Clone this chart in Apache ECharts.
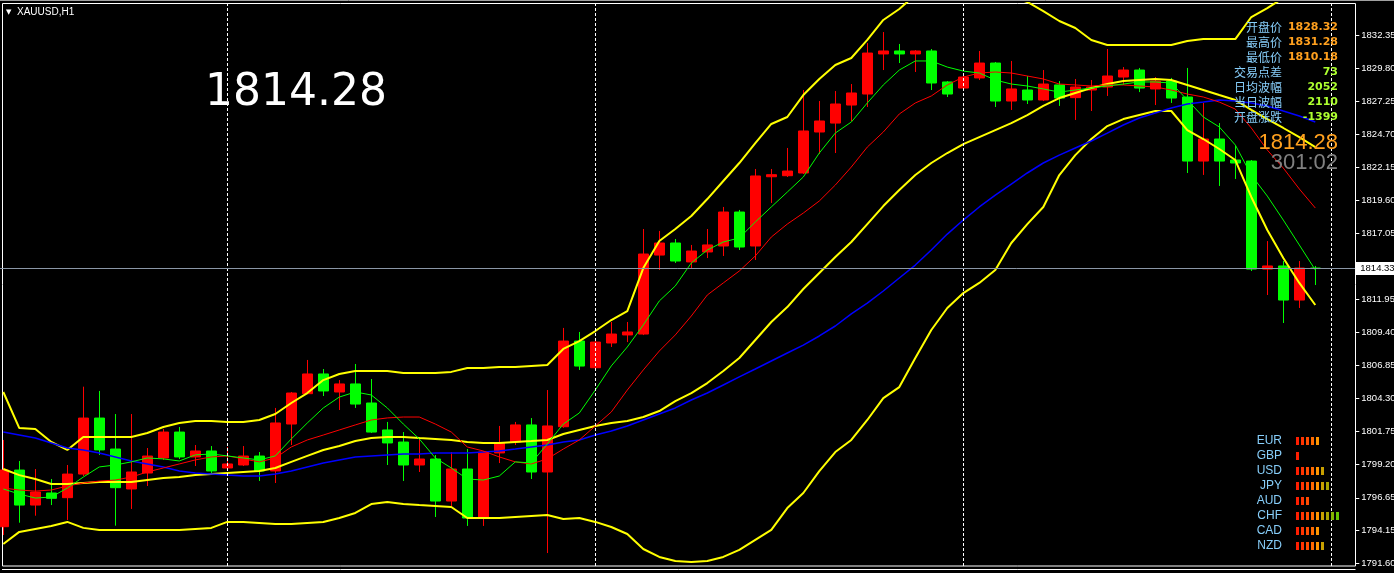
<!DOCTYPE html>
<html><head><meta charset="utf-8">
<script src="https://cdn.jsdelivr.net/npm/echarts@6/dist/echarts.min.js"></script>
<style>html,body{margin:0;padding:0;background:#000;overflow:hidden}#c{width:1394px;height:573px}</style>
</head><body><div id="c"></div><script>
// ---------------- data ----------------
const days = ['11-29','11-30','12-01','12-02','12-03'];
const categories = [];
for (let h = 10; h <= 23; h++) categories.push(days[0] + ' ' + String(h).padStart(2,'0') + ':00');
for (let d = 1; d <= 3; d++) for (let h = 1; h <= 23; h++) categories.push(days[d] + ' ' + String(h).padStart(2,'0') + ':00');
categories.push(days[4] + ' 01:00', days[4] + ' 02:00');
const daySeparators = ['11-30 01:00','12-01 01:00','12-02 01:00','12-03 01:00'];

const openP = [1794.42,1798.79,1796.09,1797.02,1796.66,1798.48,1802.80,1800.41,1797.33,1798.56,1799.72,1801.72,1799.80,1800.26,1798.95,1799.18,1799.87,1798.72,1802.34,1804.68,1806.20,1804.81,1805.43,1803.96,1801.88,1800.95,1799.18,1799.64,1796.40,1798.87,1795.09,1800.11,1800.95,1802.27,1798.64,1802.13,1808.74,1806.68,1808.59,1809.21,1809.28,1815.37,1816.30,1814.84,1815.61,1816.07,1818.69,1816.07,1821.41,1821.49,1821.70,1824.86,1825.55,1826.94,1827.79,1830.88,1831.11,1830.88,1831.11,1828.72,1828.25,1829.03,1830.18,1827.25,1828.10,1827.33,1828.49,1827.51,1828.10,1828.33,1829.10,1829.64,1828.18,1828.79,1827.56,1822.62,1824.32,1822.70,1822.62,1814.29,1814.53,1811.90,1814.37];
const highP = [1801.11,1799.49,1798.87,1798.10,1799.18,1805.22,1804.89,1803.11,1803.11,1800.49,1801.96,1802.11,1800.72,1800.64,1800.57,1800.64,1800.18,1803.58,1804.81,1807.28,1806.58,1805.73,1806.97,1805.81,1802.50,1801.72,1801.34,1799.95,1800.18,1800.41,1800.25,1802.19,1802.50,1802.80,1804.96,1809.75,1809.44,1808.90,1810.21,1810.21,1817.38,1817.23,1816.61,1816.15,1817.38,1819.08,1818.85,1822.01,1822.01,1823.63,1828.10,1827.25,1828.02,1828.56,1831.72,1832.57,1831.65,1831.18,1831.26,1828.79,1829.20,1831.11,1830.26,1830.34,1829.18,1829.64,1828.79,1828.95,1828.87,1831.26,1829.87,1829.80,1829.10,1829.03,1829.80,1827.10,1825.55,1823.78,1822.70,1816.45,1814.91,1814.91,1814.53];
const lowP = [1793.78,1794.73,1795.27,1796.09,1794.94,1798.33,1799.95,1794.50,1795.79,1797.56,1799.57,1799.64,1799.10,1798.48,1798.95,1799.10,1797.95,1797.79,1800.72,1804.65,1804.50,1803.42,1803.58,1801.65,1799.18,1797.95,1798.64,1795.17,1796.02,1794.48,1794.48,1799.33,1800.72,1798.10,1792.39,1802.05,1806.51,1806.60,1808.28,1808.66,1809.20,1814.22,1814.76,1814.37,1815.14,1815.30,1815.76,1814.99,1819.39,1821.39,1821.62,1823.16,1823.24,1825.71,1826.79,1829.64,1830.18,1829.49,1828.10,1827.56,1828.10,1828.87,1826.79,1826.56,1827.02,1827.25,1826.87,1825.79,1826.48,1827.64,1828.49,1827.94,1826.94,1827.10,1821.70,1821.55,1820.70,1821.24,1814.14,1812.29,1810.13,1811.29,1813.06];
const closeP = [1798.79,1796.09,1797.10,1796.61,1798.48,1802.80,1800.34,1797.43,1798.64,1799.87,1801.72,1799.80,1800.26,1798.72,1799.26,1799.87,1798.72,1802.42,1804.73,1806.20,1804.89,1805.43,1803.88,1801.72,1800.88,1799.18,1799.64,1796.40,1798.87,1795.09,1800.18,1800.88,1802.27,1798.64,1802.19,1808.74,1806.81,1808.66,1809.28,1809.44,1815.45,1816.30,1814.91,1815.68,1816.15,1818.69,1815.99,1821.47,1821.57,1821.85,1824.94,1825.71,1827.02,1827.87,1830.95,1831.11,1830.88,1831.11,1828.64,1827.79,1829.10,1830.18,1827.25,1828.18,1827.33,1828.56,1827.48,1828.33,1828.33,1829.18,1829.64,1828.25,1828.79,1827.48,1822.62,1824.32,1822.62,1822.47,1814.29,1814.53,1811.90,1814.37,1814.33];

const bbUpper = [1804.81,1802.03,1801.96,1800.96,1800.34,1801.34,1801.34,1801.34,1801.34,1801.65,1802.11,1802.42,1802.57,1802.57,1802.50,1802.50,1802.65,1803.11,1803.96,1804.73,1805.73,1806.20,1806.43,1806.43,1806.43,1806.28,1806.28,1806.28,1806.36,1806.66,1806.66,1806.74,1806.74,1806.82,1806.89,1808.13,1808.74,1809.51,1810.36,1811.05,1814.37,1816.45,1817.38,1818.38,1819.69,1821.08,1822.47,1824.01,1825.48,1826.02,1827.71,1828.95,1830.03,1830.57,1831.96,1833.50,1834.35,1835.43,1835.66,1835.81,1835.81,1835.81,1835.66,1835.27,1834.89,1834.19,1833.42,1832.88,1831.96,1831.57,1831.57,1831.57,1831.57,1831.57,1831.88,1832.03,1832.03,1832.03,1833.73,1834.42,1835.19,1835.89,1835.89];
const bbMiddle = [1798.87,1798.40,1798.10,1797.71,1797.71,1797.79,1797.87,1797.87,1797.87,1798.02,1798.17,1798.25,1798.40,1798.48,1798.56,1798.64,1798.71,1798.95,1799.42,1799.88,1800.34,1800.65,1801.03,1801.26,1801.34,1801.34,1801.26,1801.19,1801.11,1800.96,1800.88,1800.88,1800.96,1801.03,1801.11,1801.57,1801.88,1802.19,1802.42,1802.57,1802.88,1803.34,1804.11,1804.73,1805.50,1806.43,1807.43,1808.82,1810.21,1811.36,1812.75,1813.99,1815.22,1816.38,1817.76,1819.15,1820.39,1821.54,1822.47,1823.24,1823.93,1824.47,1825.01,1825.55,1826.17,1826.87,1827.48,1827.87,1828.25,1828.56,1828.79,1828.87,1828.95,1828.87,1828.49,1828.10,1827.71,1827.33,1826.56,1825.86,1825.17,1824.47,1823.70];
const bbLower = [1793.09,1794.02,1794.25,1794.48,1794.79,1794.33,1794.17,1794.17,1794.17,1794.17,1794.17,1794.17,1794.25,1794.33,1794.79,1794.79,1794.71,1794.63,1794.63,1794.71,1794.79,1795.09,1795.48,1796.17,1796.33,1796.17,1796.09,1796.02,1795.94,1795.09,1795.09,1795.09,1795.17,1795.25,1795.32,1795.02,1795.09,1794.79,1794.40,1793.86,1792.70,1792.09,1791.78,1791.70,1791.78,1792.09,1792.63,1793.40,1794.17,1795.86,1797.02,1798.71,1800.18,1801.11,1802.65,1804.34,1805.19,1807.43,1809.59,1811.29,1812.44,1813.22,1814.22,1816.30,1817.76,1819.08,1821.54,1823.08,1824.32,1825.32,1825.86,1826.17,1826.48,1826.48,1825.01,1824.32,1823.55,1822.70,1819.85,1817.30,1815.14,1813.22,1811.52];
const maFast = [1797.33,1796.94,1796.63,1796.71,1797.40,1798.25,1799.03,1799.18,1799.42,1799.72,1799.65,1799.49,1799.96,1800.03,1799.88,1799.72,1799.57,1799.88,1801.19,1802.42,1803.58,1804.42,1804.81,1804.58,1803.58,1802.34,1801.19,1799.72,1798.95,1798.10,1798.02,1798.33,1799.42,1799.34,1800.80,1802.34,1803.19,1804.96,1806.82,1808.28,1809.98,1811.83,1812.99,1814.76,1815.76,1816.38,1816.69,1817.92,1819.08,1820.23,1821.39,1823.24,1824.78,1825.63,1827.10,1828.49,1829.64,1830.34,1830.34,1829.87,1829.56,1829.41,1828.87,1828.56,1828.41,1828.18,1827.94,1828.10,1828.25,1828.41,1828.56,1828.72,1828.72,1828.64,1827.33,1826.02,1825.25,1823.86,1821.54,1819.92,1818.07,1816.15,1814.22];
const maMid = [1797.40,1797.25,1797.17,1797.25,1797.56,1797.79,1797.94,1798.02,1798.25,1798.64,1798.95,1799.26,1799.57,1799.80,1799.88,1799.65,1799.42,1799.72,1800.57,1801.11,1801.49,1801.88,1802.27,1802.65,1802.81,1802.88,1802.88,1802.34,1801.72,1800.57,1800.26,1799.80,1799.42,1799.26,1799.65,1800.41,1801.11,1802.19,1803.27,1804.96,1806.51,1807.97,1809.21,1810.67,1812.29,1813.22,1814.14,1815.30,1816.76,1817.76,1818.61,1819.54,1820.77,1822.16,1823.70,1824.86,1826.25,1827.10,1827.64,1828.49,1829.10,1829.41,1829.49,1829.41,1829.18,1828.95,1828.56,1828.49,1828.41,1828.49,1828.49,1828.41,1828.33,1828.10,1827.79,1827.56,1827.17,1826.63,1825.17,1823.47,1822.08,1820.47,1819.00];
const maSlow = [1801.72,1801.49,1801.26,1800.88,1800.49,1800.34,1800.11,1799.80,1799.49,1799.26,1799.03,1798.71,1798.56,1798.48,1798.40,1798.33,1798.33,1798.48,1798.71,1799.03,1799.34,1799.57,1799.80,1799.88,1799.96,1800.03,1800.03,1800.11,1800.11,1800.11,1800.18,1800.26,1800.41,1800.57,1800.72,1800.96,1801.11,1801.49,1801.80,1802.19,1802.65,1803.11,1803.58,1804.19,1804.73,1805.35,1805.97,1806.58,1807.20,1807.82,1808.43,1809.13,1809.90,1810.83,1811.67,1812.60,1813.60,1814.60,1815.76,1816.99,1818.07,1819.08,1820.00,1820.85,1821.70,1822.47,1823.08,1823.63,1824.17,1824.78,1825.40,1825.94,1826.33,1826.71,1827.02,1827.17,1827.33,1827.25,1827.10,1826.87,1826.48,1826.10,1825.63];

const tickLabels = ['1832.35','1829.80','1827.25','1824.70','1822.15','1819.60','1817.05','1811.95','1809.40','1806.85','1804.30','1801.75','1799.20','1796.65','1794.15','1791.60'];
const currentPrice = 1814.33;

const infoLabels = ['开盘价','最高价','最低价','交易点差','日均波幅','当日波幅','开盘涨跌'];
const infoValues = ['1828.32','1831.28','1810.18','73','2052','2110','-1399'];
const infoValueColors = ['#ffa01e','#ffa01e','#ffa01e','#adff2f','#adff2f','#adff2f','#adff2f'];
const bigPrice = '1814.28';
const countdown = '301:02';

const currencies = ['EUR','GBP','USD','JPY','AUD','CHF','CAD','NZD'];
const strength = [5,1,6,7,3,9,5,6];
const strengthColors = ['#ff1e00','#ff3400','#ff4c00','#ff6a00','#ff9600','#c8a000','#a8a400','#84b400','#66c400'];

// ---------------- build ----------------
const candleData = openP.map((o, i) => [o, closeP[i], lowP[i], highP[i]]);
const tickValues = tickLabels.map(Number);
const yMin = 1791.39, yMax = 1834.81;

const chart = echarts.init(document.getElementById('c'));

const lineSeries = (name, data, color, width) => ({
  name, type: 'line', data, xAxisIndex: 0, yAxisIndex: 0, symbol: 'none', clip: true,
  lineStyle: { color, width }, itemStyle: { color }, z: 3, silent: true, animation: false
});

const rich = { g: { width: 2, height: 8, lineHeight: 8, fontSize: 1 } };
strengthColors.forEach((c, i) => { rich['b' + i] = { width: 3, height: 8, lineHeight: 8, fontSize: 1, backgroundColor: c }; });

const graphics = [];
graphics.push({ type: 'line', shape: { x1: 0, y1: 0.5, x2: 1394, y2: 0.5 }, style: { stroke: '#a0a0a0', lineWidth: 1 }, z: 100 });
graphics.push({ type: 'line', shape: { x1: 2, y1: 569.5, x2: 1355.5, y2: 569.5 }, style: { stroke: '#ffffff', lineWidth: 1 }, z: 100 });
graphics.push({ type: 'text', x: 6, y: 12, style: { text: '▼', fill: '#fff', font: '7px "DejaVu Sans"', verticalAlign: 'middle' }, z: 100 });
graphics.push({ type: 'text', x: 17, y: 12, style: { text: 'XAUUSD,H1', fill: '#fff', font: '10px "Liberation Sans"', verticalAlign: 'middle' }, z: 100 });
graphics.push({ type: 'text', x: 205, y: 94, style: { text: bigPrice, fill: '#fff', font: '44px "DejaVu Sans"', verticalAlign: 'middle' }, z: 1 });
infoLabels.forEach((t, i) => {
  const y = 27 + i * 15;
  graphics.push({ type: 'text', x: 1282, y, style: { text: t, fill: '#87cefa', font: '12px "Noto Sans CJK SC"', textAlign: 'right', verticalAlign: 'middle' }, z: 100 });
  graphics.push({ type: 'text', x: 1338, y, style: { text: infoValues[i], fill: infoValueColors[i], font: 'bold 11px "DejaVu Sans"', textAlign: 'right', verticalAlign: 'middle' }, z: 100 });
});
graphics.push({ type: 'text', x: 1338, y: 143, style: { text: bigPrice, fill: '#ffa01e', font: '22px "Liberation Sans"', textAlign: 'right', verticalAlign: 'middle' }, z: 100 });
graphics.push({ type: 'text', x: 1338, y: 163, style: { text: countdown, fill: '#808080', font: '22px "Liberation Sans"', textAlign: 'right', verticalAlign: 'middle' }, z: 100 });
currencies.forEach((c, i) => {
  const y = 441 + i * 15;
  graphics.push({ type: 'text', x: 1282, y, style: { text: c, fill: '#87cefa', font: '12px "Liberation Sans"', textAlign: 'right', verticalAlign: 'middle' }, z: 100 });
  let s = '';
  for (let j = 0; j < strength[i]; j++) s += '{b' + j + '| }{g| }';
  graphics.push({ type: 'text', x: 1296, y, style: { text: s, rich, verticalAlign: 'middle' }, z: 100 });
});

const option = {
  backgroundColor: '#000',
  animation: false,
  grid: [
    { left: -4.7, top: 3, width: 1360, height: 563, show: false, outerBoundsMode: 'none', containLabel: false },
    { left: 2.5, top: 3.5, width: 1353, height: 562.5, show: true, borderColor: '#ffffff', borderWidth: 1, backgroundColor: 'transparent', outerBoundsMode: 'none' }
  ],
  xAxis: [{ type: 'category', gridIndex: 0, data: categories, boundaryGap: true,
    axisLine: { show: false }, axisTick: { show: false }, axisLabel: { show: false }, splitLine: { show: false } }],
  yAxis: [{ type: 'value', gridIndex: 0, position: 'right', min: yMin, max: yMax,
    splitLine: { show: false }, axisLine: { show: false },
    axisTick: { show: true, inside: false, length: 4, customValues: tickValues, lineStyle: { color: '#ffffff' } },
    axisLabel: { show: true, customValues: tickValues, formatter: v => v.toFixed(2), color: '#ffffff', fontSize: 9.5, fontFamily: 'Liberation Sans', margin: 6 } }],
  series: [
    { name: 'XAUUSD', type: 'candlestick', data: candleData, xAxisIndex: 0, yAxisIndex: 0, barWidth: 10, z: 2, silent: true,
      itemStyle: { color: '#ff0000', color0: '#00ff00', borderColor: '#ff0000', borderColor0: '#00ff00', borderWidth: 1 },
      markLine: { silent: true, symbol: ['none', 'none'], animation: false,
        data: daySeparators.map(d => ({ xAxis: d, lineStyle: { color: '#ffffff', type: [3, 2], width: 1 }, label: { show: false } }))
          .concat([{ yAxis: currentPrice, lineStyle: { color: '#8a96a6', type: 'solid', width: 1 },
            label: { show: true, position: 'end', distance: 0, formatter: currentPrice.toFixed(2), color: '#000', backgroundColor: '#fff',
              fontSize: 9.5, fontFamily: 'Liberation Sans', padding: [2, 4, 1, 5] } }]) } },
    lineSeries('BB Upper', bbUpper, '#ffff00', 2),
    lineSeries('BB Middle', bbMiddle, '#ffff00', 2),
    lineSeries('BB Lower', bbLower, '#ffff00', 2),
    lineSeries('MA Slow', maSlow, '#0000ff', 1.5),
    lineSeries('MA Mid', maMid, '#ff0000', 1),
    lineSeries('MA Fast', maFast, '#00ff00', 1)
  ],
  graphic: graphics
};
chart.setOption(option);
</script></body></html>
